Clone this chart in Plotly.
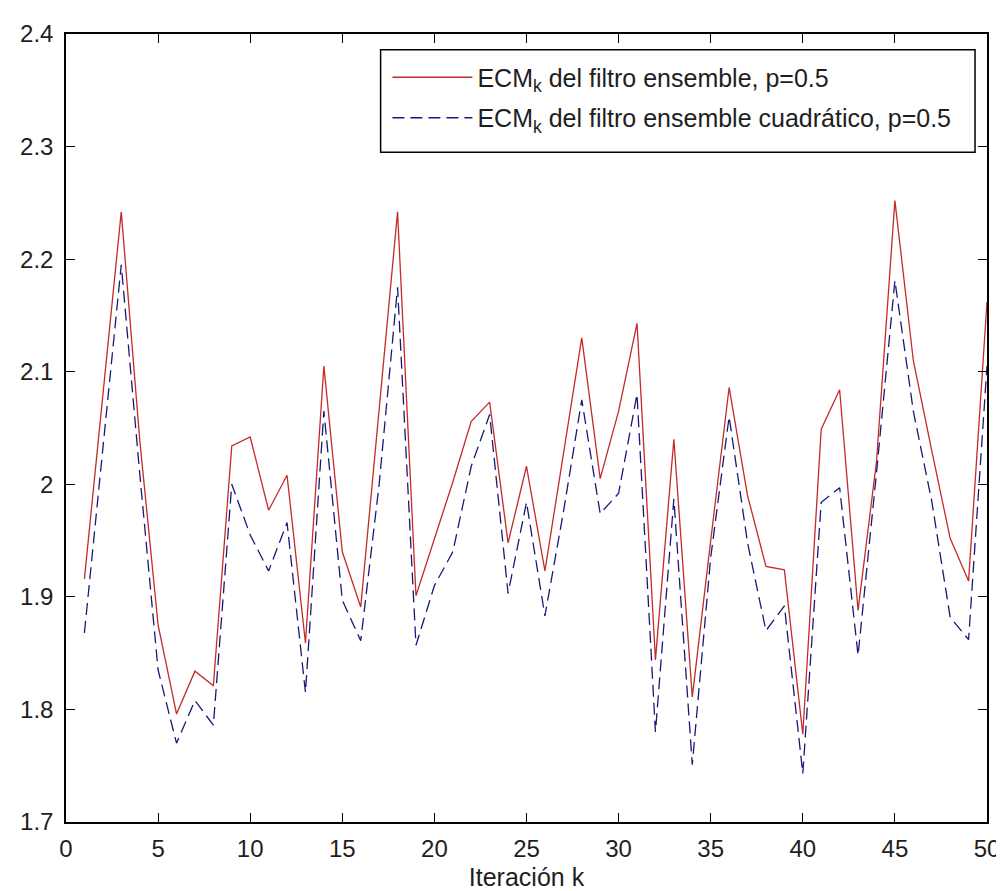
import plotly.graph_objects as go

iterations = list(range(1, 51))

ecm_ensemble = [
    1.916, 2.080, 2.242, 2.040, 1.875, 1.796, 1.834, 1.821, 2.034, 2.042,
    1.977, 2.008, 1.859, 2.105, 1.940, 1.891, 2.065, 2.242, 1.901, 1.952,
    2.002, 2.056, 2.073, 1.948, 2.016, 1.923, 2.025, 2.130, 2.005, 2.065,
    2.143, 1.844, 2.040, 1.811, 1.950, 2.086, 1.990, 1.927, 1.924, 1.778,
    2.049, 2.084, 1.888, 2.020, 2.252, 2.110, 2.030, 1.952, 1.914, 2.162,
]

ecm_cuadratico = [
    1.868, 2.030, 2.195, 2.010, 1.835, 1.770, 1.808, 1.786, 2.000, 1.955,
    1.923, 1.966, 1.815, 2.065, 1.897, 1.861, 2.000, 2.175, 1.857, 1.910,
    1.940, 2.016, 2.062, 1.903, 1.984, 1.883, 1.975, 2.075, 1.974, 1.992,
    2.080, 1.780, 1.987, 1.751, 1.935, 2.060, 1.948, 1.870, 1.892, 1.743,
    1.984, 1.997, 1.848, 2.010, 2.181, 2.065, 1.985, 1.882, 1.862, 2.105,
]

x_tick_vals = [0, 5, 10, 15, 20, 25, 30, 35, 40, 45, 50]
y_tick_vals = [1.7, 1.8, 1.9, 2.0, 2.1, 2.2, 2.3, 2.4]
y_tick_text = ["1.7", "1.8", "1.9", "2", "2.1", "2.2", "2.3", "2.4"]

label_red = "ECM<sub>k</sub> del filtro ensemble, p=0.5"
label_blue = "ECM<sub>k</sub> del filtro ensemble cuadrático, p=0.5"

FONT = "Liberation Sans, Arial, sans-serif"
TXT = "#1e1e1e"

fig = go.Figure()
fig.add_trace(go.Scatter(
    x=iterations, y=ecm_ensemble, mode="lines", name=label_red,
    legendgroup="a",
    line=dict(color="#c42a2a", width=1.3),
))
fig.add_trace(go.Scatter(
    x=iterations, y=ecm_cuadratico, mode="lines", name=label_blue,
    legendgroup="b",
    line=dict(color="#18187a", width=1.3, dash="12px,6px"),
))

axis_common = dict(
    showgrid=False, zeroline=False,
    showline=True, linecolor="black", linewidth=1.5,
    mirror="allticks", ticks="inside", ticklen=9, tickwidth=1.2,
    tickcolor="black",
    tickfont=dict(family=FONT, size=24, color=TXT),
)

fig.update_xaxes(
    range=[0, 50], tickvals=x_tick_vals,
    title=dict(text="Iteración k", font=dict(family=FONT, size=25, color=TXT), standoff=8),
    ticklabelstandoff=4,
    **axis_common,
)
fig.update_yaxes(
    range=[1.7, 2.4], tickvals=y_tick_vals, ticktext=y_tick_text,
    ticklabelstandoff=6,
    **axis_common,
)

# legend frame (matches the reference box extents)
fig.add_shape(
    type="rect", xref="paper", yref="paper",
    x0=0.3416, x1=0.987, y0=0.8498, y1=0.980,
    line=dict(color="black", width=1.5), fillcolor="white", layer="below",
)

fig.update_layout(
    width=1004, height=891,
    margin=dict(l=58, r=18, t=23, b=69),
    paper_bgcolor="white", plot_bgcolor="white",
    font=dict(family=FONT, size=25, color=TXT),
    showlegend=True,
    legend=dict(
        x=0.349, y=0.974, xanchor="left", yanchor="top",
        bgcolor="rgba(0,0,0,0)", borderwidth=0,
        font=dict(family=FONT, size=25, color=TXT),
        itemwidth=80, tracegroupgap=5,
    ),
)

fig.write_html("out.html")
